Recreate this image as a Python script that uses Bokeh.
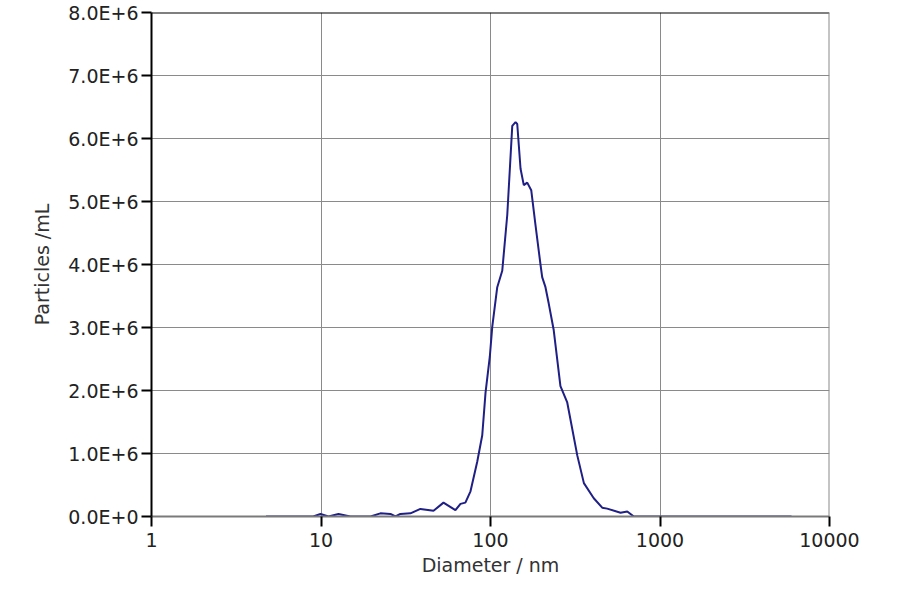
from bokeh.plotting import figure
from bokeh.models import FixedTicker, CustomJSTickFormatter, Span, Range1d
from bokeh.embed import file_html
from bokeh.resources import INLINE

# Data (diameter in nm, concentration in particles/mL)
diameter = [4.74, 9.0, 9.93, 11.07, 12.68, 14.9, 19.6, 22.4, 25.7, 27.5, 29.4, 33.7,
            38.6, 46.1, 52.8, 62.1, 66.5, 71.1, 76.2, 83.5, 89.4, 93.5, 99.1, 102.4,
            109.6, 117.3, 125.6, 134.4, 140.5, 143.8, 150.4, 157.2, 164.7, 173.9,
            184.2, 197.2, 201.8, 211.0, 220.6, 236.0, 258.6, 283.6, 325.0, 355.6,
            406.7, 456.0, 488.0, 585.0, 641.0, 701.0, 5970.0]
conc_e6 = [0.0, 0.0, 0.04, 0.0, 0.04, 0.0, 0.0, 0.05, 0.04, 0.0, 0.04, 0.05,
           0.12, 0.09, 0.22, 0.10, 0.20, 0.22, 0.40, 0.87, 1.29, 1.97, 2.54, 3.01,
           3.64, 3.90, 4.79, 6.20, 6.26, 6.23, 5.52, 5.26, 5.30, 5.18,
           4.63, 4.00, 3.80, 3.64, 3.38, 2.96, 2.07, 1.81, 0.97, 0.53,
           0.29, 0.14, 0.125, 0.06, 0.08, 0.0, 0.0]
concentration = [v * 1e6 for v in conc_e6]

x_ticks = [1, 10, 100, 1000, 10000]
y_ticks = [0, 1e6, 2e6, 3e6, 4e6, 5e6, 6e6, 7e6, 8e6]

FONT = "DejaVu Sans"

p = figure(width=884, height=578, x_axis_type="log",
           x_range=Range1d(1, 10000), y_range=Range1d(0, 8e6),
           output_backend="svg", toolbar_location=None,
           min_border_left=151, min_border_right=55,
           min_border_top=12, min_border_bottom=62)

p.line(diameter, concentration, line_color="#1f1f85", line_width=2)

p.outline_line_color = None
p.background_fill_color = "white"
p.border_fill_color = "white"

# axes
p.xaxis.ticker = FixedTicker(ticks=x_ticks, minor_ticks=[])
p.yaxis.ticker = FixedTicker(ticks=y_ticks, minor_ticks=[])
p.yaxis.formatter = CustomJSTickFormatter(code="""
if (tick == 0) return '0.0E+0';
const e = Math.floor(Math.log10(Math.abs(tick)) + 1e-9);
return (tick / Math.pow(10, e)).toFixed(1) + 'E+' + e;
""")
p.xaxis.formatter = CustomJSTickFormatter(code="return tick.toFixed(0);")

for ax in (p.xaxis[0], p.yaxis[0]):
    ax.major_tick_in = 0
    ax.major_tick_out = 10
    ax.major_tick_line_color = "black"
    ax.major_tick_line_width = 2
    ax.minor_tick_line_color = None
    ax.major_label_text_font = FONT
    ax.major_label_text_font_size = "19px"
    ax.major_label_text_color = "#222222"
    ax.axis_label_text_font = FONT
    ax.axis_label_text_font_size = "19px"
    ax.axis_label_text_font_style = "normal"
    ax.axis_label_text_color = "#333333"
    ax.axis_line_width = 2

p.xaxis.axis_label = "Diameter / nm"
p.yaxis.axis_label = "Particles /mL"
p.xaxis.axis_line_color = "#7a7a7a"
p.yaxis.axis_line_color = "black"
p.xaxis.major_label_standoff = 6
p.yaxis.major_label_standoff = 3
p.xaxis.axis_label_standoff = 4
p.yaxis.axis_label_standoff = 12

# grid
p.xgrid.ticker = FixedTicker(ticks=[10, 100, 1000])
p.ygrid.ticker = FixedTicker(ticks=y_ticks[1:-1])
for g in (p.xgrid[0], p.ygrid[0]):
    g.grid_line_color = "#8a8a8a"
    g.grid_line_width = 1
    g.grid_line_alpha = 1.0

# frame borders: black top, gray right
p.add_layout(Span(location=8e6, dimension="width", line_color="black", line_width=2))
p.add_layout(Span(location=10000, dimension="height", line_color="#8a8a8a", line_width=2))

open("out.html", "w").write(file_html(p, INLINE))
